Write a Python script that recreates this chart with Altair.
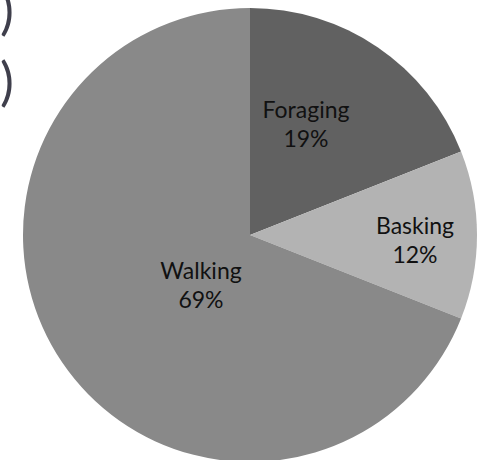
import altair as alt
import pandas as pd

# Share of observed time per activity
activities = ["Foraging", "Basking", "Walking"]
shares = [19, 12, 69]
shades = ["#616161", "#b3b3b3", "#898989"]

df = pd.DataFrame({
    "activity": activities,
    "share": shares,
    "rank": list(range(len(activities))),
})
df["pct"] = df["share"].astype(str) + "%"

CX, CY, R = 250, 235, 227
FONT = "Lato"

color = alt.Color(
    "activity:N",
    scale=alt.Scale(domain=activities, range=shades),
    legend=None,
)

pie = alt.Chart(df).mark_arc(outerRadius=R, strokeWidth=0).encode(
    theta=alt.Theta("share:Q", stack=True),
    order=alt.Order("rank:Q"),
    color=color,
    x=alt.value(CX),
    y=alt.value(CY),
)

# label anchor points (name line, percentage sits below it)
label_pos = {
    "Foraging": (306, 111),
    "Basking": (415, 227),
    "Walking": (201, 272),
}

layers = [pie]
for name, (lx, ly) in label_pos.items():
    base = alt.Chart(df).transform_filter(alt.datum.activity == name)
    layers.append(
        base.mark_text(font=FONT, fontSize=23, color="#111111", align="center", baseline="middle")
        .encode(text="activity:N", x=alt.value(lx), y=alt.value(ly))
    )
    layers.append(
        base.mark_text(font=FONT, fontSize=23, color="#111111", align="center", baseline="middle")
        .encode(text="pct:N", x=alt.value(lx), y=alt.value(ly + 29))
    )

# closing brackets along the left edge
for by in (13, 84):
    layers.append(
        alt.Chart(df.head(1)).mark_text(
            text=")", font=FONT, fontSize=52, color="#3f3f4c",
            align="left", baseline="middle"
        ).encode(x=alt.value(0), y=alt.value(by))
    )

chart = alt.layer(*layers).properties(
    width=479,
    height=460,
    padding=0,
    autosize=alt.AutoSizeParams(type="none"),
    background="#ffffff",
).configure_view(stroke=None)

chart.save("out.html", embed_options={"renderer": "svg", "actions": False})
